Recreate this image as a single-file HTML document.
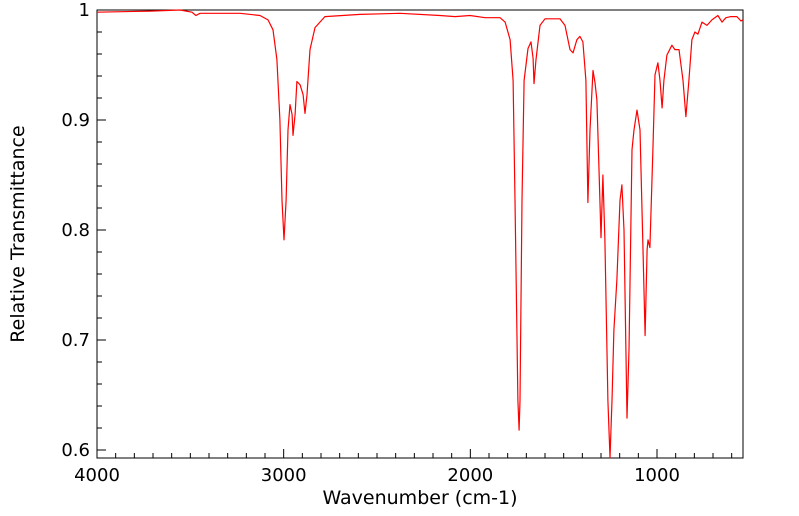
<!DOCTYPE html>
<html><head><meta charset="utf-8"><style>
body{margin:0;background:#fff;}
svg{display:block;font-family:"DejaVu Sans","Liberation Sans",sans-serif;}
</style></head><body>
<svg id="chart" width="799" height="516" viewBox="0 0 799 516" xmlns="http://www.w3.org/2000/svg">
<rect x="97" y="10" width="646" height="448" fill="#fff" stroke="#000" stroke-width="1"/>
<g id="ticks"></g>
<g id="labels" font-size="18"></g>
<polyline id="spectrum" fill="none" stroke="#ff0000" stroke-width="1.2" stroke-linejoin="round"/>
<text x="420" y="504" font-size="19" text-anchor="middle">Wavenumber (cm-1)</text>
<text x="24" y="234" font-size="19" text-anchor="middle" transform="rotate(-90 24 234)">Relative Transmittance</text>
</svg>
<script>
const wavenumbers=[4000,3716,3555,3491,3470,3448,3234,3127,3084,3057,3036,3020,3009,2998,2987,2977,2966,2955,2950,2939,2929,2912,2896,2886,2875,2859,2832,2779,2591,2377,2163,2082,2002,1921,1841,1814,1787,1771,1761,1745,1739,1734,1723,1712,1691,1675,1664,1659,1648,1627,1600,1520,1493,1466,1450,1429,1413,1397,1381,1370,1359,1343,1332,1322,1311,1300,1290,1279,1263,1252,1241,1231,1215,1198,1188,1177,1161,1150,1134,1123,1107,1091,1075,1064,1053,1048,1038,1022,1011,995,984,973,963,947,920,904,882,861,845,829,813,797,781,759,732,706,674,652,631,604,572,550,540];
const transmittance=[0.998,0.999,1.0,0.998,0.995,0.997,0.997,0.995,0.991,0.982,0.955,0.90,0.827,0.791,0.827,0.891,0.914,0.905,0.886,0.905,0.935,0.932,0.923,0.906,0.923,0.964,0.984,0.994,0.996,0.997,0.995,0.994,0.995,0.993,0.993,0.989,0.973,0.936,0.827,0.645,0.618,0.645,0.827,0.936,0.965,0.971,0.956,0.933,0.955,0.986,0.992,0.992,0.986,0.964,0.961,0.973,0.976,0.971,0.936,0.825,0.891,0.945,0.934,0.918,0.855,0.793,0.850,0.791,0.645,0.593,0.645,0.709,0.755,0.827,0.841,0.80,0.629,0.691,0.873,0.891,0.909,0.891,0.782,0.704,0.782,0.791,0.784,0.873,0.941,0.952,0.936,0.911,0.936,0.959,0.968,0.964,0.964,0.936,0.903,0.936,0.973,0.98,0.978,0.989,0.986,0.991,0.995,0.989,0.993,0.994,0.994,0.99,0.991];
const xTickValues=[4000,3000,2000,1000];
const xTickLabels=["4000","3000","2000","1000"];
const yTickValues=[1,0.9,0.8,0.7,0.6];
const yTickLabels=["1","0.9","0.8","0.7","0.6"];

const X0=97,X1=743,Y0=10,Y1=458;
const xScale=w=>X0+(4000-w)*0.18667;
const yScale=t=>Y0+(1-t)*1100;
const NS="http://www.w3.org/2000/svg";
document.getElementById('spectrum').setAttribute('points',wavenumbers.map((w,i)=>xScale(w).toFixed(1)+','+yScale(transmittance[i]).toFixed(1)).join(' '));
const tg=document.getElementById('ticks'),lg=document.getElementById('labels');
function line(x1,y1,x2,y2,name){const l=document.createElementNS(NS,'line');


l.setAttribute('x1',x1);l.setAttribute('y1',y1);l.setAttribute('x2',x2);l.setAttribute('y2',y2);l.setAttribute('stroke','#000');tg.appendChild(l);}
for(let w=4000;w>=600;w-=100){const x=xScale(w);const major=w%1000===0;line(x,Y1,x,Y1-(major?9:5),'x-tick');}
for(let k=0;k<=20;k++){const t=0.6+k*0.02;const y=yScale(t);if(y<Y0-0.5)continue;const major=k%5===0;line(X0,y,X0+(major?9:5),y,'y-tick');}
xTickValues.forEach((v,i)=>{const t=document.createElementNS(NS,'text');


t.setAttribute('x',xScale(v));t.setAttribute('y',481);t.setAttribute('text-anchor','middle');t.textContent=xTickLabels[i];lg.appendChild(t);});
yTickValues.forEach((v,i)=>{const t=document.createElementNS(NS,'text');


t.setAttribute('x',90);t.setAttribute('y',yScale(v)+6);t.setAttribute('text-anchor','end');t.textContent=yTickLabels[i];lg.appendChild(t);});
</script>
</body></html>
